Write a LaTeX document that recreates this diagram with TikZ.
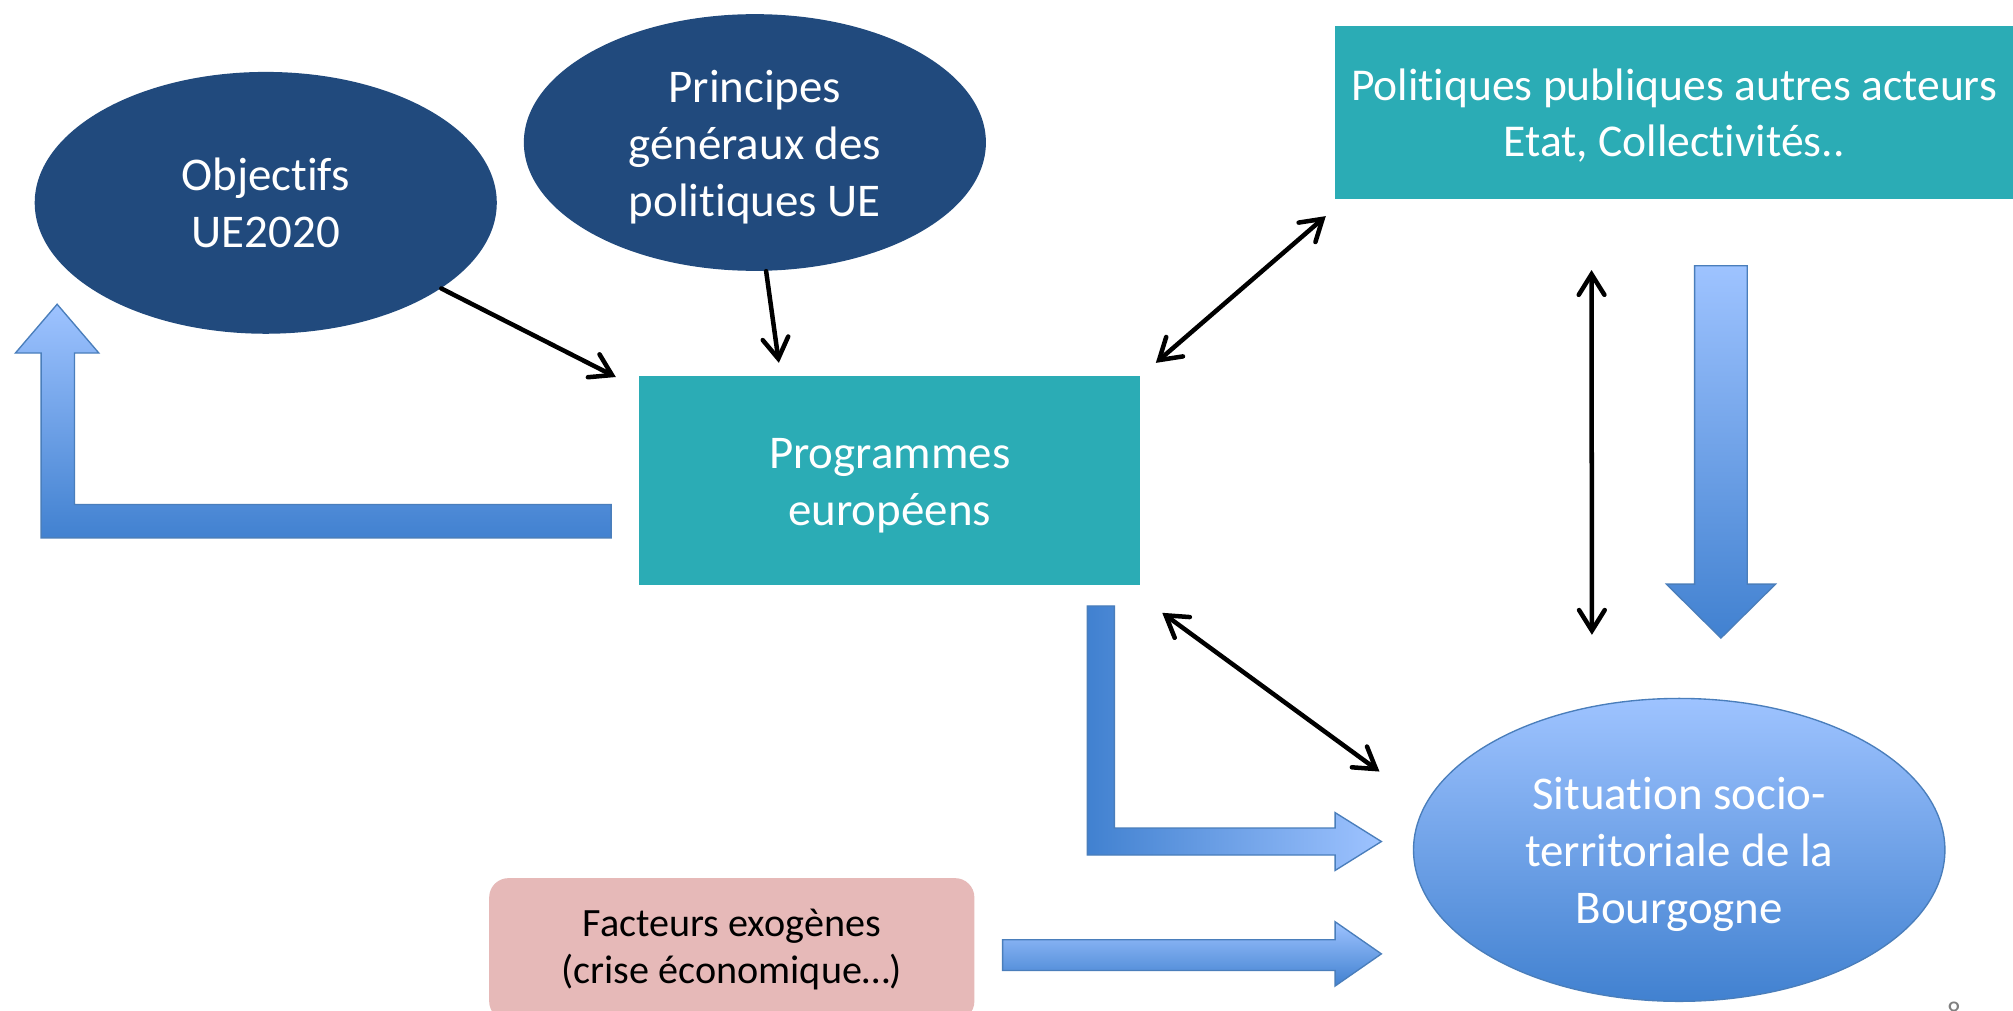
\documentclass[tikz,border=0pt]{standalone}
\usepackage{fontspec}
\setmainfont{Carlito}[Ligatures={CommonOff,ContextualOff}]
\usetikzlibrary{shapes.geometric,arrows.meta,calc}
\definecolor{darkblue}{HTML}{214A7D}
\definecolor{tealbox}{HTML}{2BACB5}
\definecolor{pinkbox}{HTML}{E6B9B8}
\definecolor{gradlight}{HTML}{9EC3FF}
\definecolor{graddark}{HTML}{4181D0}
\definecolor{arrborder}{HTML}{4A7EBB}
\newcommand{\lowtext}[1]{\raisebox{-2.3pt}[\height][\depth]{\begin{tabular}{@{}c@{}}#1\end{tabular}}}
\tikzset{
  bigtext/.style={font=\fontsize{20.8}{25.3}\selectfont, text=white},
  darkoval/.style={ellipse, fill=darkblue, inner sep=0pt, bigtext},
  tealrect/.style={rectangle, fill=tealbox, inner sep=0pt, bigtext},
  conn/.style={line width=2pt, line cap=round, {Straight Barb[length=3.2mm,width=4mm,line cap=round]}-{Straight Barb[length=3.2mm,width=4mm,line cap=round]}},
  conn1/.style={line width=2pt, line cap=round, -{Straight Barb[length=3.2mm,width=4mm,line cap=round]}},
  blockarrow/.style={draw=arrborder, line width=0.6pt}
}
\begin{document}
\begin{tikzpicture}[x=0.02cm,y=-0.02cm]
\useasboundingbox (0,0) rectangle (1568,787);
\clip (0,0) rectangle (1568,787);
\fill[white] (0,0) rectangle (1568,787);

% nodes
\node[darkoval, minimum width=7.2cm, minimum height=4.08cm] (obj) at (207,158) {\lowtext{Objectifs\\UE2020}};
\node[darkoval, minimum width=7.2cm, minimum height=4.0cm] (prin) at (588,111) {\lowtext{Principes\\généraux des\\politiques UE}};
\node[tealrect, minimum width=10.56cm, minimum height=2.7cm, font=\fontsize{20.2}{24.6}\selectfont] (pol) at (1304,87.5) {\lowtext{Politiques publiques autres acteurs\\Etat, Collectivités..}};
\node[tealrect, minimum width=7.8cm, minimum height=3.26cm] (prog) at (693,374.5) {\lowtext{Programmes\\européens}};
\node[ellipse, inner sep=0pt, minimum width=8.28cm, minimum height=4.72cm, top color=gradlight, bottom color=graddark, draw=arrborder, line width=0.6pt, bigtext] (sit) at (1308,662) {\lowtext{Situation socio-\\territoriale de la\\Bourgogne}};
\node[rectangle, rounded corners=0.3cm, fill=pinkbox, inner sep=0pt, minimum width=7.56cm, minimum height=2.22cm, align=center, font=\fontsize{17.8}{21}\selectfont] (fact) at (570,739.5) {Facteurs exogènes\\(crise économique…)};
\node[anchor=north, text=gray, inner sep=0pt, font=\fontsize{12}{14}\selectfont] (page) at (1522,780) {8};

% block arrows
\path[blockarrow, top color=gradlight, bottom color=graddark]
  (476,393) -- (58,393) -- (58,275) -- (77,275) -- (44.5,237) -- (12,275) -- (32,275) -- (32,419) -- (476,419) -- cycle;
\path[blockarrow, top color=gradlight, bottom color=graddark]
  (1320,207) -- (1361,207) -- (1361,455) -- (1383,455) -- (1340.5,497) -- (1298,455) -- (1320,455) -- cycle;
\path[blockarrow, left color=graddark, right color=gradlight]
  (847,472) -- (868,472) -- (868,645) -- (1040,645) -- (1040,633) -- (1076,655.5) -- (1040,678) -- (1040,666) -- (847,666) -- cycle;
\path[blockarrow, top color=gradlight, bottom color=graddark]
  (781,732) -- (1040,732) -- (1040,718) -- (1076,743) -- (1040,768) -- (1040,756) -- (781,756) -- cycle;

% black connectors
\draw[conn1] (obj.-26) -- ($(prog.north west)+(-18,1)$);
\draw[conn1] (prin.-85) -- ($(prog.north west)+(109,-10)$);
\draw[conn] ($(prog.north east)+(12,-10)$) -- ($(pol.south west)+(-7,13)$);
\draw[conn] ($(pol.south west)+(200,55)$) -- ($(sit.north)+(-68,-49)$);
\draw[conn] ($(prog.south east)+(17,21)$) -- ($(sit.west)+(-26,-61)$);
\end{tikzpicture}
\end{document}
